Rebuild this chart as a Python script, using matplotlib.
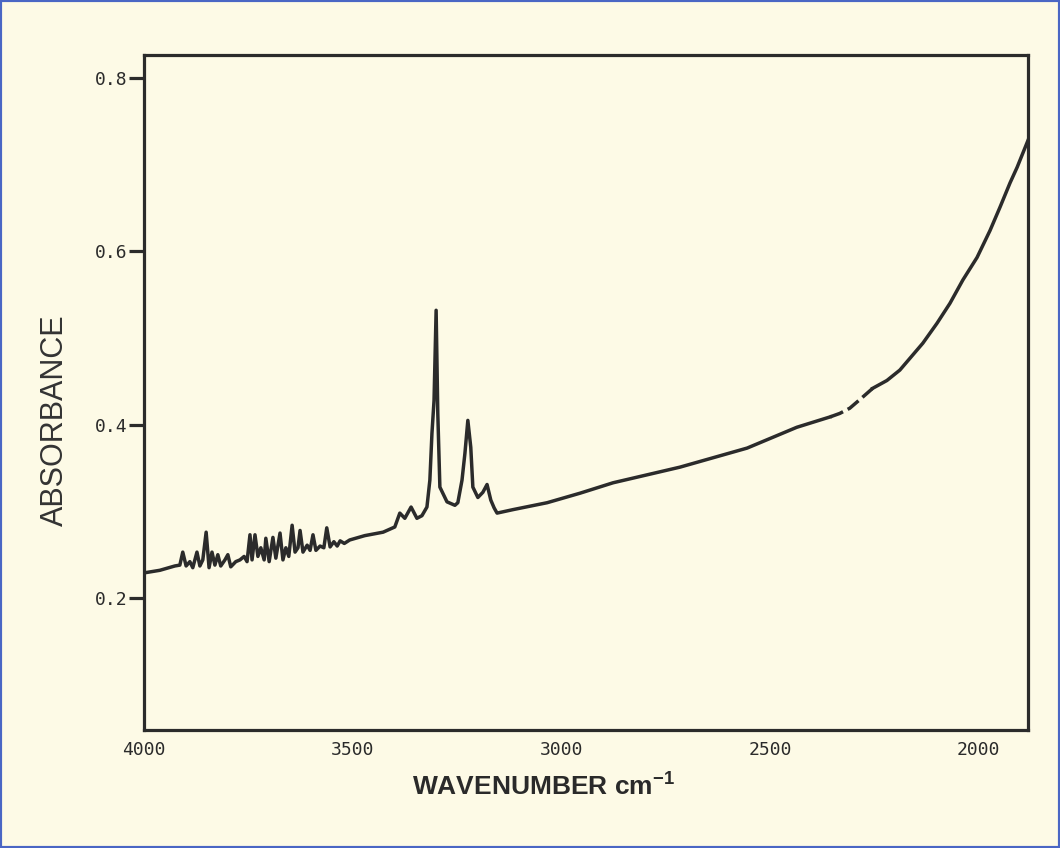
import matplotlib
matplotlib.use('Agg')
import numpy as np
from matplotlib import pyplot as plt
from matplotlib.patches import Rectangle

# IR spectrum
wavenumber = [4000, 3962, 3926, 3914, 3907, 3899, 3890, 3883, 3873, 3866,
              3859, 3851, 3844, 3837, 3830, 3823, 3816, 3806, 3799, 3792,
              3780, 3770, 3760, 3753, 3746, 3741, 3734, 3727, 3720, 3712,
              3708, 3700, 3691, 3684, 3674, 3667, 3660, 3653, 3645, 3638,
              3631, 3626, 3619, 3609, 3602, 3595, 3588, 3578, 3569, 3562,
              3554, 3545, 3537, 3530, 3520, 3507, 3471, 3427, 3399, 3387,
              3375, 3360, 3346, 3334, 3322, 3315, 3310, 3305, 3300, 3296,
              3291, 3284, 3274, 3255, 3248, 3238, 3231, 3224, 3217, 3212,
              3200, 3188, 3178, 3169, 3161, 3154, 3116, 3034, 2955, 2876,
              2716, 2555, 2436, 2356, 2333, 2309, 2280, 2254, 2220, 2189,
              2134, 2100, 2069, 2038, 2004, 1973, 1949, 1925, 1908, 1882]
absorbance = [0.229, 0.232, 0.237, 0.238, 0.253, 0.237, 0.242, 0.235, 0.253, 0.237,
              0.244, 0.276, 0.235, 0.253, 0.238, 0.250, 0.237, 0.244, 0.250, 0.236,
              0.242, 0.244, 0.248, 0.242, 0.273, 0.244, 0.273, 0.248, 0.258, 0.244,
              0.269, 0.242, 0.270, 0.246, 0.275, 0.244, 0.258, 0.248, 0.284, 0.253,
              0.258, 0.278, 0.253, 0.261, 0.255, 0.273, 0.255, 0.260, 0.258, 0.281,
              0.259, 0.265, 0.260, 0.266, 0.263, 0.267, 0.272, 0.276, 0.282, 0.298,
              0.292, 0.305, 0.292, 0.295, 0.305, 0.336, 0.390, 0.428, 0.532, 0.413,
              0.328, 0.321, 0.311, 0.307, 0.310, 0.336, 0.367, 0.405, 0.374, 0.328,
              0.316, 0.322, 0.331, 0.313, 0.304, 0.298, 0.302, 0.310, 0.321, 0.333,
              0.351, 0.373, 0.397, 0.409, 0.413, 0.419, 0.431, 0.442, 0.451, 0.463,
              0.494, 0.517, 0.540, 0.567, 0.593, 0.624, 0.651, 0.679, 0.697, 0.728]
yticks = [0.2, 0.4, 0.6, 0.8]
xticks = [4000, 3500, 3000, 2500, 2000]

plt.rcParams['mathtext.fontset'] = 'custom'
plt.rcParams['mathtext.rm'] = 'Liberation Sans'
plt.rcParams['mathtext.bf'] = 'Liberation Sans:bold'

bg = '#fdfae6'
ink = '#2b2b2b'

fig = plt.figure(figsize=(10.6, 8.48), dpi=100, facecolor=bg)
ax = fig.add_axes([0.1358, 0.1392, 0.834, 0.7959], facecolor=bg)

wn = np.array(wavenumber)
ab = np.array(absorbance)
solid1 = wn >= 2356
dashed = (wn <= 2356) & (wn >= 2254)
solid2 = wn <= 2254
ax.plot(wn[solid1], ab[solid1], color=ink, lw=2.5, solid_joinstyle='round')
ax.plot(wn[dashed], ab[dashed], color=ink, lw=2.5, dashes=(4, 1.5))
ax.plot(wn[solid2], ab[solid2], color=ink, lw=2.5)

ax.set_xlim(4000, 1882)
ax.set_ylim(0.0478, 0.8265)
ax.set_xticks(xticks)
ax.set_yticks(yticks)
ax.set_xticklabels([str(t) for t in xticks])
ax.set_yticklabels(['%.1f' % t for t in yticks])

for s in ax.spines.values():
    s.set_linewidth(2.3)
    s.set_color(ink)
ax.tick_params(axis='y', length=11, width=2.3, pad=1, color=ink, labelcolor=ink)
ax.tick_params(axis='x', length=0, pad=8, labelcolor=ink)
for lab in ax.get_xticklabels() + ax.get_yticklabels():
    lab.set_family('DejaVu Sans Mono')
    lab.set_fontsize(13)

ax.set_ylabel('ABSORBANCE', family='Liberation Sans', fontsize=22, color='#333333', va='center')
ax.yaxis.set_label_coords(-0.1007, 0.459)
ax.set_xlabel('WAVENUMBER cm$^{\\mathbf{-1}}$', family='Liberation Sans', fontweight='bold',
              fontsize=19, color='#2a2a2a', va='center')
ax.xaxis.set_label_coords(0.4525, -0.083)

fig.patches.append(Rectangle((0, 0), 1, 1, transform=fig.transFigure, fill=False,
                             edgecolor='#4a66c4', lw=3))

fig.savefig('out.png', dpi=100, facecolor=bg)
